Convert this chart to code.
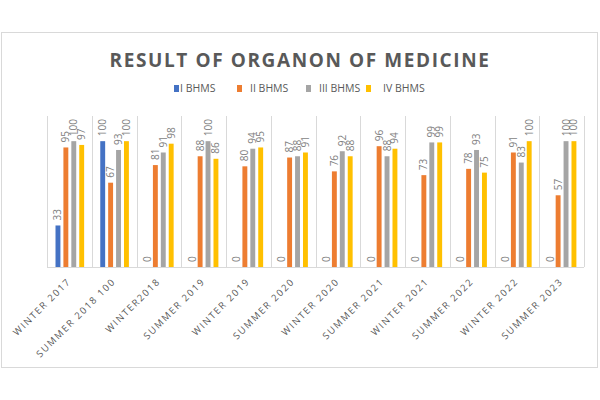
<!DOCTYPE html>
<html>
<head>
<meta charset="utf-8">
<script src="https://cdn.jsdelivr.net/npm/d3@7"></script>
<style>
  body { margin: 0; background: #fff; }
  svg { display: block; font-family: "Open Sans", "Liberation Sans", sans-serif; }
</style>
</head>
<body>
<div id="viz"></div>
<script>
// chart data
const categories = ['WINTER 2017', 'SUMMER 2018 100', 'WINTER2018', 'SUMMER 2019', 'WINTER 2019',
  'SUMMER 2020', 'WINTER 2020', 'SUMMER 2021', 'WINTER 2021', 'SUMMER 2022', 'WINTER 2022', 'SUMMER 2023']
const seriesNames = ['I BHMS', 'II BHMS', 'III BHMS', 'IV BHMS']
const bhms1 = [33, 100, 0, 0, 0, 0, 0, 0, 0, 0, 0, 0]
const bhms2 = [95, 67, 81, 88, 80, 87, 76, 96, 73, 78, 91, 57]
const bhms3 = [100, 93, 91, 100, 94, 88, 92, 88, 99, 93, 83, 100]
const bhms4 = [97, 100, 98, 86, 95, 91, 88, 94, 99, 75, 100, 100]
const colors = ['#4472C4', '#ED7D31', '#A5A5A5', '#FFC000']

const series = [bhms1, bhms2, bhms3, bhms4]

var width = 600,
  height = 400
var margin = { top: 116, right: 16, bottom: 133, left: 47 }

var svg = d3
  .select('#viz')
  .append('svg')
  .attr('width', width)
  .attr('height', height)

// outer chart border
svg
  .append('rect')
  .attr('x', 1.5)
  .attr('y', 32.5)
  .attr('width', 596)
  .attr('height', 335)
  .attr('fill', 'none')
  .attr('stroke', '#d9d9d9')

// title
svg
  .append('text')
  .attr('x', 300)
  .attr('y', 67)
  .attr('text-anchor', 'middle')
  .attr('font-size', 19)
  .attr('font-weight', 'bold')
  .attr('letter-spacing', 1.6)
  .attr('fill', '#595959')
  .text('RESULT OF ORGANON OF MEDICINE')

// legend
var legendX = [174, 237, 306, 366]
var legendTextX = [180, 250, 319, 383]
var legend = svg
  .selectAll('.legend')
  .data(seriesNames)
  .enter()
  .append('g')
legend
  .append('rect')
  .attr('x', function(d, i) {
    return legendX[i]
  })
  .attr('y', 85)
  .attr('width', 5)
  .attr('height', 7)
  .attr('fill', function(d, i) {
    return colors[i]
  })
legend
  .append('text')
  .attr('x', function(d, i) {
    return legendTextX[i]
  })
  .attr('y', 92)
  .attr('font-size', 10.5)
  .attr('fill', '#595959')
  .text(function(d) {
    return d
  })

var x0 = d3
  .scaleBand()
  .domain(categories)
  .range([margin.left, width - margin.right])

var bw = x0.bandwidth()
var x1 = d3
  .scaleBand()
  .domain(d3.range(series.length))
  .range([bw * 0.19, bw * 0.83])
  .paddingInner(0.38)

var y = d3
  .scaleLinear()
  .domain([0, 120])
  .range([height - margin.bottom, margin.top])

// vertical gridlines between categories
var edges = categories.map(function(c) {
  return x0(c)
})
edges.push(x0.range()[1])
svg
  .selectAll('.grid')
  .data(edges)
  .enter()
  .append('line')
  .attr('x1', function(d) {
    return Math.round(d) + 0.5
  })
  .attr('x2', function(d) {
    return Math.round(d) + 0.5
  })
  .attr('y1', y(120))
  .attr('y2', y(0))
  .attr('stroke', '#d9d9d9')

// bars
var groups = svg
  .selectAll('.group')
  .data(categories)
  .enter()
  .append('g')
  .attr('transform', function(d) {
    return 'translate(' + x0(d) + ',0)'
  })

groups
  .selectAll('rect')
  .data(function(d, ci) {
    return series.map(function(s, si) {
      return { si: si, v: s[ci] }
    })
  })
  .enter()
  .append('rect')
  .attr('x', function(d) {
    return x1(d.si)
  })
  .attr('width', x1.bandwidth())
  .attr('y', function(d) {
    return y(d.v)
  })
  .attr('height', function(d) {
    return y(0) - y(d.v)
  })
  .attr('fill', function(d) {
    return colors[d.si]
  })

// value labels
groups
  .selectAll('.lbl')
  .data(function(d, ci) {
    return series.map(function(s, si) {
      return { si: si, v: s[ci] }
    })
  })
  .enter()
  .append('text')
  .attr('transform', function(d) {
    return 'translate(' + (x1(d.si) + x1.bandwidth() / 2) + ',' + (y(d.v) - 5) + ')rotate(-90)'
  })
  .attr('dy', '0.35em')
  .attr('font-size', 10)
  .attr('fill', '#7f7f7f')
  .text(function(d) {
    return d.v
  })

// x axis line
svg
  .append('line')
  .attr('x1', x0.range()[0])
  .attr('x2', x0.range()[1])
  .attr('y1', y(0) + 0.5)
  .attr('y2', y(0) + 0.5)
  .attr('stroke', '#d9d9d9')

// category labels
svg
  .selectAll('.cat')
  .data(categories)
  .enter()
  .append('text')
  .attr('transform', function(d) {
    return 'translate(' + (x0(d) + bw / 2 + 2) + ',282)rotate(-45)'
  })
  .attr('text-anchor', 'end')
  .attr('font-size', 9.5)
  .attr('letter-spacing', 1.6)
  .attr('fill', '#595959')
  .text(function(d) {
    return d
  })
</script>
</body>
</html>
